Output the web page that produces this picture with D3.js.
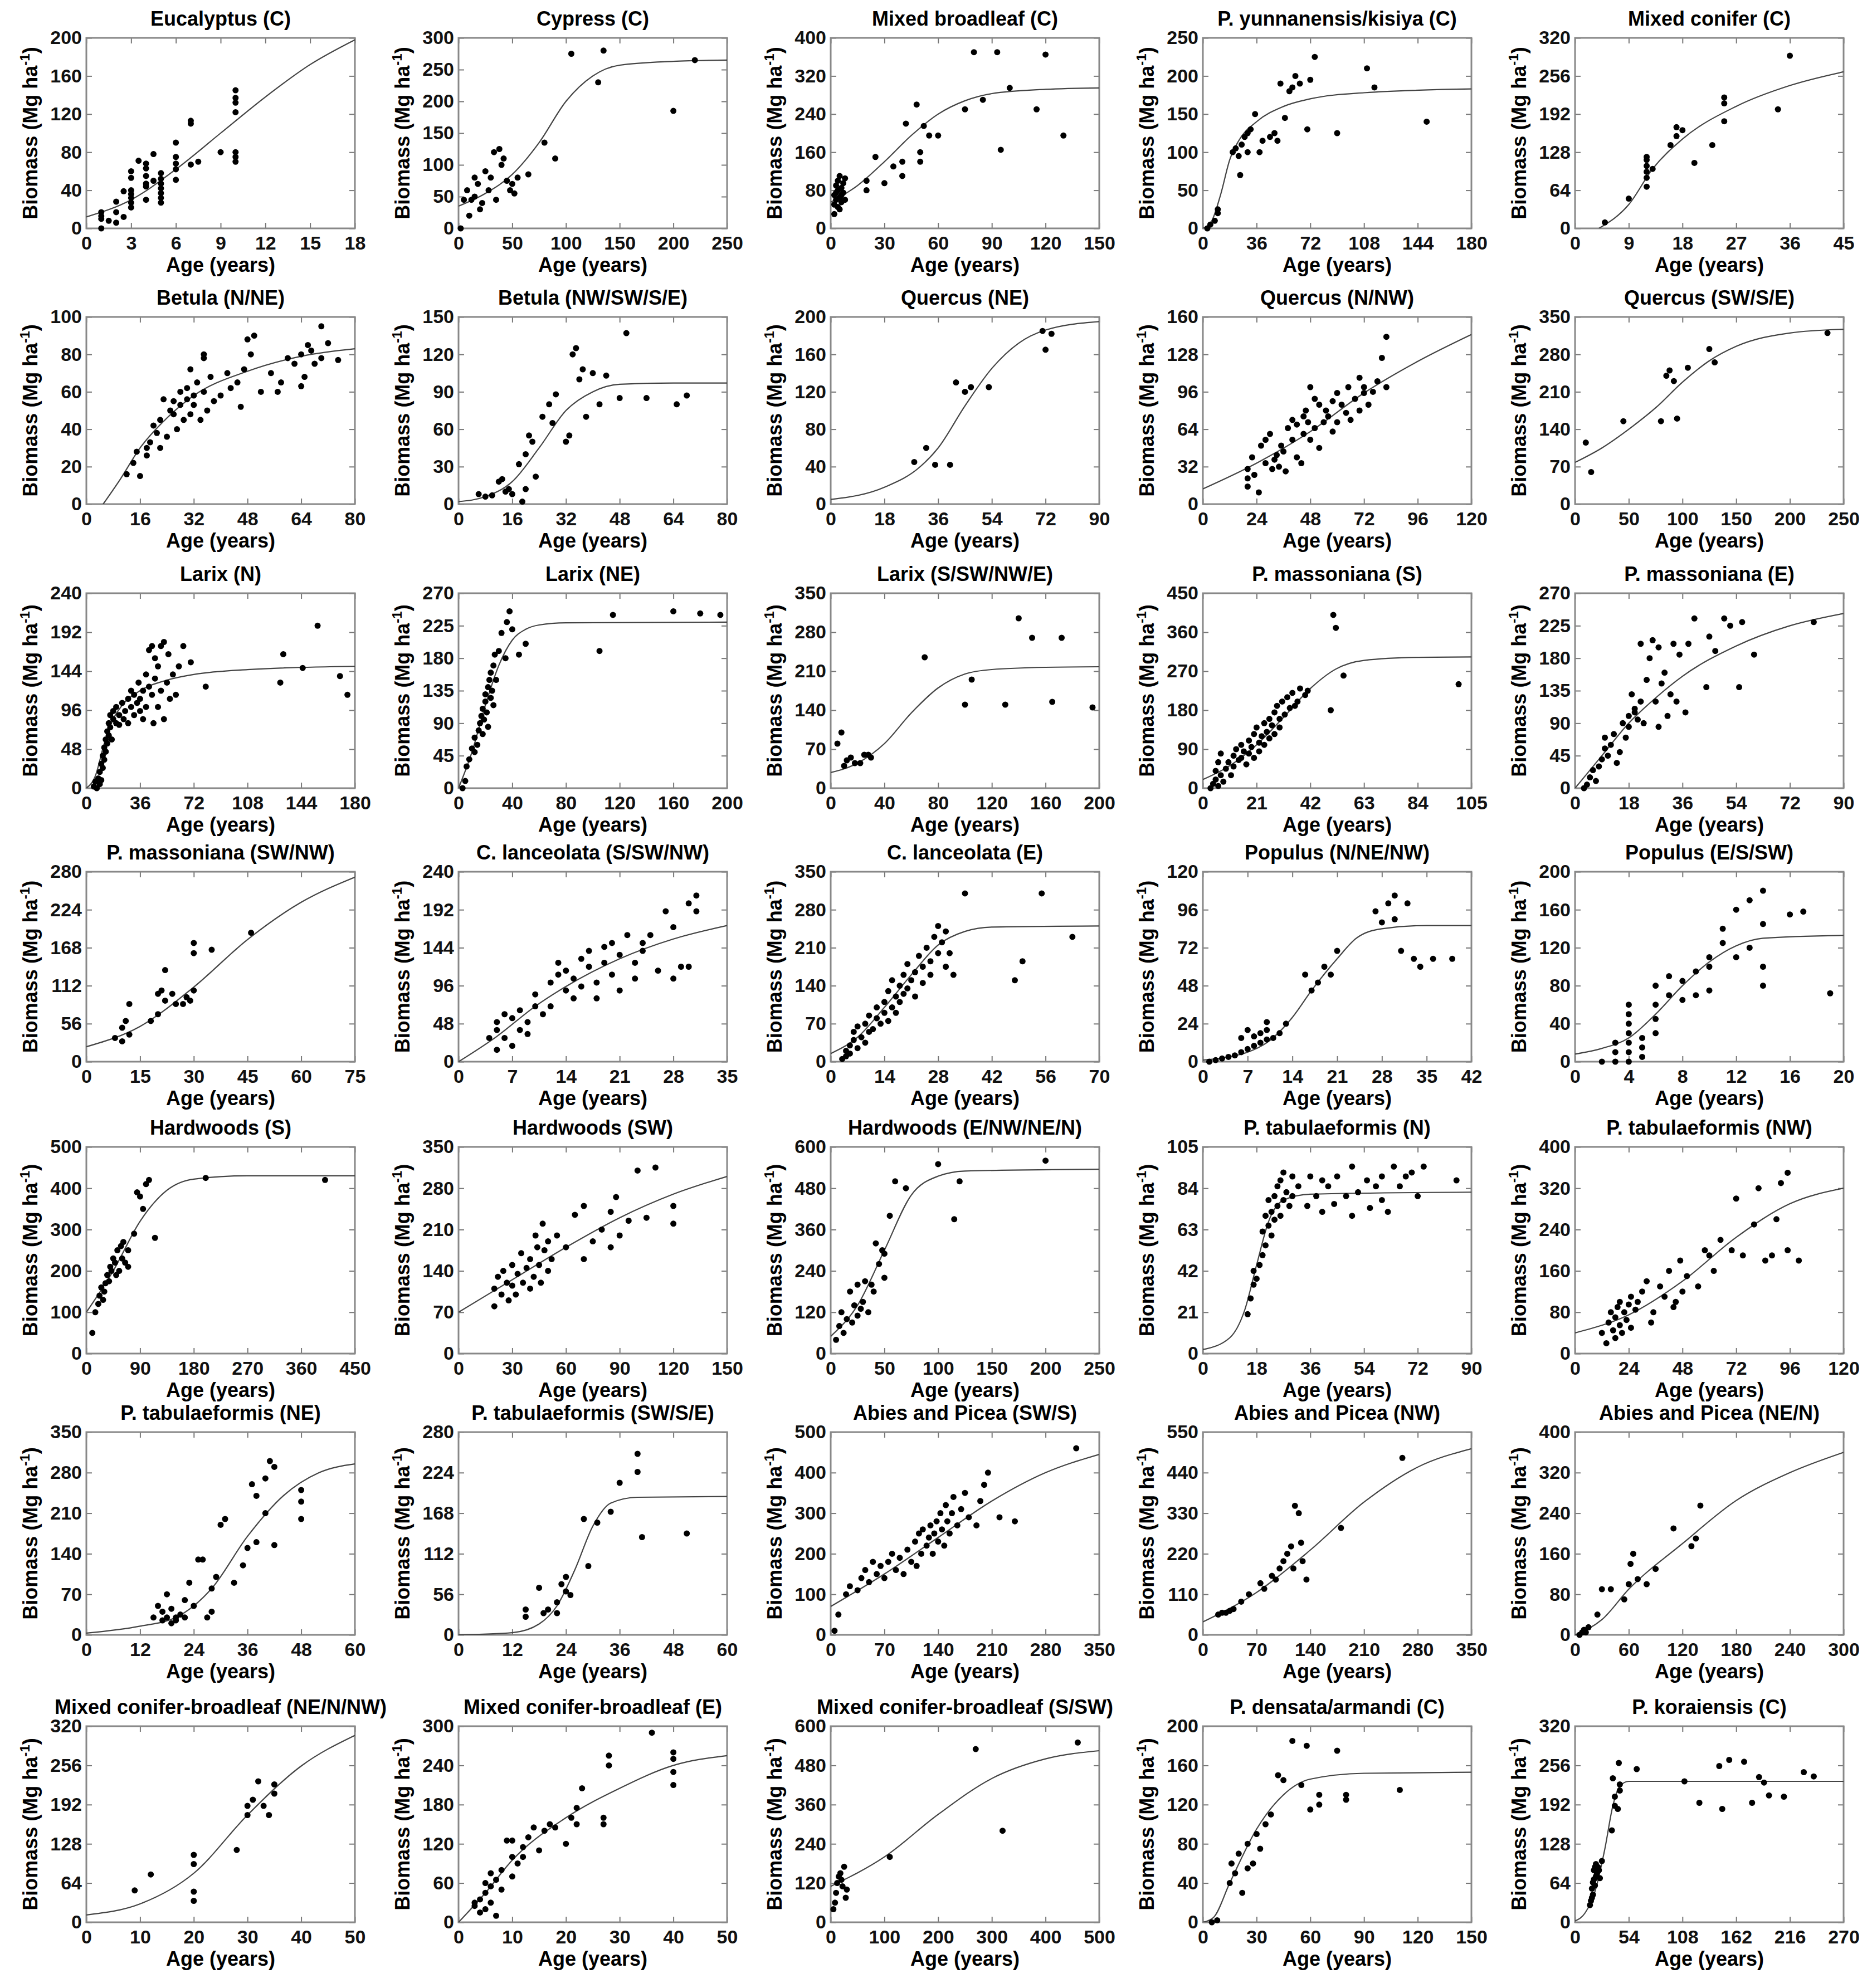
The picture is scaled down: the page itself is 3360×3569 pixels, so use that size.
<!DOCTYPE html>
<html><head><meta charset="utf-8">
<script src="https://cdn.jsdelivr.net/npm/d3@7"></script>
<style>body{margin:0;background:#fff}svg text{font-family:"Liberation Sans",Arial,sans-serif;font-weight:bold}</style>
</head><body>
<svg id="c" width="3360" height="3569"></svg>
<script>
const titles=["Eucalyptus (C)","Cypress (C)","Mixed broadleaf (C)","P. yunnanensis/kisiya (C)","Mixed conifer (C)",
"Betula (N/NE)","Betula (NW/SW/S/E)","Quercus (NE)","Quercus (N/NW)","Quercus (SW/S/E)",
"Larix (N)","Larix (NE)","Larix (S/SW/NW/E)","P. massoniana (S)","P. massoniana (E)",
"P. massoniana (SW/NW)","C. lanceolata (S/SW/NW)","C. lanceolata (E)","Populus (N/NE/NW)","Populus (E/S/SW)",
"Hardwoods (S)","Hardwoods (SW)","Hardwoods (E/NW/NE/N)","P. tabulaeformis (N)","P. tabulaeformis (NW)",
"P. tabulaeformis (NE)","P. tabulaeformis (SW/S/E)","Abies and Picea (SW/S)","Abies and Picea (NW)","Abies and Picea (NE/N)",
"Mixed conifer-broadleaf (NE/N/NW)","Mixed conifer-broadleaf (E)","Mixed conifer-broadleaf (S/SW)","P. densata/armandi (C)","P. koraiensis (C)"];
// [max, step]
const xAxes=[[18,3],[250,50],[150,30],[180,36],[45,9],[80,16],[80,16],[90,18],[120,24],[250,50],
[180,36],[200,40],[200,40],[105,21],[90,18],[75,15],[35,7],[70,14],[42,7],[20,4],
[450,90],[150,30],[250,50],[90,18],[120,24],[60,12],[60,12],[350,70],[350,70],[300,60],
[50,10],[50,10],[500,100],[150,30],[270,54]];
const yAxes=[[200,40],[300,50],[400,80],[250,50],[320,64],[100,20],[150,30],[200,40],[160,32],[350,70],
[240,48],[270,45],[350,70],[450,90],[270,45],[280,56],[240,48],[350,70],[120,24],[200,40],
[500,100],[350,70],[600,120],[105,21],[400,80],[350,70],[280,56],[500,100],[550,110],[400,80],
[320,64],[300,60],[600,120],[200,40],[320,64]];
const curves=[
[[0,12],[3,30],[6,62],[9,100],[12,138],[15,172],[18,198]],
[[0,35],[25,55],[50,85],[75,135],[100,200],[125,240],[150,257],[200,263],[250,265]],
[[0,55],[15,90],[30,140],[45,195],[60,240],[75,268],[90,283],[120,292],[150,295]],
[[0,0],[6,10],[12,45],[18,90],[24,115],[36,140],[54,160],[72,170],[108,178],[180,183]],
[[4,0],[9,40],[13,100],[18,150],[27,205],[36,240],[45,263]],
[[5,0],[10,13],[16,30],[24,46],[32,58],[48,71],[64,79],[80,83]],
[[0,2],[8,6],[16,18],[24,45],[32,75],[40,90],[48,96],[64,97],[80,97]],
[[0,5],[18,18],[30,40],[36,60],[45,105],[54,145],[63,172],[72,186],[90,195]],
[[0,13],[24,35],[48,62],[72,95],[96,122],[120,145]],
[[0,78],[25,105],[50,140],[75,180],[100,228],[125,268],[150,295],[200,320],[250,327]],
[[0,0],[6,15],[12,55],[18,85],[24,102],[36,120],[54,133],[72,140],[108,146],[180,150]],
[[0,0],[10,50],[20,115],[30,170],[40,205],[50,220],[60,226],[80,229],[200,230]],
[[0,28],[20,45],[40,80],[60,135],[80,180],[100,205],[120,213],[160,217],[200,218]],
[[0,20],[10,50],[21,100],[31,160],[42,230],[52,275],[63,295],[84,302],[105,303]],
[[0,0],[9,45],[18,90],[27,125],[36,155],[54,197],[72,225],[90,242]],
[[0,22],[15,52],[30,110],[45,180],[60,235],[75,272]],
[[0,0],[5,32],[10,70],[14,95],[21,130],[28,155],[35,172]],
[[0,15],[7,45],[14,100],[21,160],[28,215],[35,240],[42,248],[70,250]],
[[0,1],[4,3],[7,6],[10,12],[14,28],[17,45],[21,65],[24,78],[28,84],[35,86],[42,86]],
[[0,8],[2,14],[4,25],[6,50],[8,80],[10,105],[12,122],[14,130],[20,133]],
[[0,100],[45,200],[90,320],[135,395],[180,422],[270,430],[450,430]],
[[0,70],[30,125],[60,180],[90,230],[120,270],[150,300]],
[[0,50],[25,140],[50,300],[75,460],[100,515],[125,530],[250,535]],
[[0,2],[9,8],[14,22],[18,45],[22,67],[27,78],[36,81],[90,82]],
[[0,40],[24,75],[48,140],[72,225],[96,290],[120,320]],
[[0,3],[12,15],[20,30],[28,80],[36,170],[44,240],[52,280],[60,295]],
[[0,0],[12,3],[18,15],[22,40],[26,90],[30,150],[34,182],[40,190],[60,191]],
[[0,70],[70,150],[140,240],[210,330],[280,400],[350,445]],
[[0,35],[70,115],[140,230],[210,360],[280,455],[350,505]],
[[0,0],[30,30],[60,90],[120,180],[180,265],[240,320],[300,360]],
[[0,12],[10,30],[20,80],[30,175],[40,255],[50,305]],
[[0,0],[5,45],[10,95],[20,160],[30,205],[40,240],[50,255]],
[[0,110],[100,200],[200,330],[300,440],[400,500],[500,525]],
[[0,0],[6,5],[15,40],[30,95],[45,130],[60,146],[90,152],[150,153]],
[[0,2],[10,15],[20,50],[30,120],[38,190],[45,222],[54,230],[270,230]]];
const points=[
[[1,0],[1,10],[1,13],[1,17],[1.5,8],[2,6],[2,17],[2,28],[2.5,12],[2.5,39],[3,22],[3,27],[3,32],[3,36],[3,40],[3,53],[3,60],[3.5,71],[4,30],[4,44],[4,47],[4,55],[4,63],[4,68],[4.5,50],[4.5,78],[5,27],[5,32],[5,37],[5,42],[5,47],[5,52],[5,58],[6,51],[6,62],[6,68],[6,75],[6,90],[7,67],[7,110],[7,113],[7.5,70],[9,80],[10,70],[10,75],[10,80],[10,122],[10,132],[10,137],[10,145]],
[[2,0],[5,45],[8,60],[10,20],[12,45],[15,80],[15,50],[18,70],[20,30],[22,40],[25,90],[28,60],[30,80],[33,120],[35,45],[38,125],[40,100],[42,110],[45,75],[48,60],[50,70],[52,55],[55,80],[65,85],[80,135],[90,110],[105,275],[130,230],[135,280],[200,185],[220,265]],
[[2,30],[2,50],[2,70],[3,90],[3,60],[4,45],[4,80],[4,100],[5,65],[5,110],[6,55],[6,85],[7,75],[7,95],[8,60],[8,105],[3,75],[5,40],[6,70],[20,80],[20,100],[25,150],[30,95],[35,130],[40,110],[40,140],[42,220],[48,260],[50,140],[50,160],[52,215],[55,195],[60,195],[75,250],[80,370],[85,270],[93,370],[95,165],[100,295],[115,250],[120,365],[130,195]],
[[3,0],[5,5],[8,10],[10,20],[10,25],[20,100],[22,105],[24,95],[25,70],[26,110],[28,120],[30,100],[30,125],[32,130],[35,150],[38,100],[40,115],[45,120],[48,125],[50,115],[52,190],[55,145],[58,180],[60,185],[62,200],[65,190],[70,130],[72,195],[75,225],[90,125],[110,210],[115,185],[150,140]],
[[5,10],[9,50],[12,70],[12,85],[12,95],[12,105],[12,115],[12,120],[13,100],[16,140],[17,155],[17,170],[18,165],[20,110],[23,140],[25,180],[25,210],[25,220],[34,200],[36,290]],
[[12,16],[14,22],[15,28],[16,15],[18,26],[18,30],[19,33],[20,42],[21,38],[22,45],[22,30],[23,56],[24,36],[25,50],[26,48],[26,55],[27,40],[28,53],[28,60],[29,45],[30,56],[30,62],[31,48],[31,72],[32,58],[32,53],[33,65],[34,45],[35,60],[35,78],[35,80],[36,50],[37,68],[38,55],[40,58],[42,70],[43,62],[45,65],[46,52],[47,72],[48,88],[49,80],[50,90],[52,60],[55,70],[57,60],[58,65],[60,78],[62,75],[64,63],[64,80],[65,68],[66,85],[67,82],[68,75],[70,95],[70,78],[72,86],[75,77]],
[[6,8],[8,6],[10,7],[12,18],[13,20],[14,10],[15,12],[16,8],[18,32],[19,2],[20,40],[20,12],[21,55],[22,50],[23,22],[25,70],[27,80],[28,65],[29,88],[32,50],[33,55],[34,120],[35,125],[36,100],[37,108],[38,70],[40,105],[42,80],[44,103],[48,85],[50,137],[56,85],[65,80],[68,87]],
[[28,45],[32,60],[35,42],[40,42],[42,130],[45,120],[47,125],[53,125],[71,185],[72,165],[74,182]],
[[20,15],[20,22],[20,30],[22,40],[23,25],[25,10],[26,50],[28,35],[28,55],[30,60],[31,30],[32,38],[33,42],[34,32],[35,50],[36,45],[37,28],[38,65],[40,55],[40,72],[42,40],[42,68],[44,35],[45,60],[45,75],[46,80],[47,70],[48,55],[48,100],[50,65],[50,90],[52,85],[52,48],[54,70],[55,80],[56,75],[58,62],[58,88],[60,70],[60,95],[62,85],[64,78],[65,100],[66,72],[68,90],[70,80],[70,108],[72,100],[72,95],[74,85],[76,96],[78,105],[80,125],[82,143],[82,100]],
[[10,115],[15,60],[45,155],[80,155],[85,240],[88,250],[92,230],[95,160],[105,255],[125,290],[130,265],[235,320]],
[[5,2],[6,8],[7,0],[8,12],[9,5],[9,20],[10,30],[10,10],[11,40],[11,25],[12,50],[12,35],[13,60],[13,45],[14,70],[14,55],[15,80],[15,65],[16,90],[16,75],[17,60],[18,95],[18,85],[20,80],[20,100],[22,90],[22,78],[24,105],[25,85],[26,95],[28,110],[28,80],[30,100],[30,120],[32,90],[32,115],[34,105],[35,130],[36,95],[36,110],[38,120],[38,85],[40,140],[40,100],[42,125],[42,170],[44,115],[44,175],[45,80],[46,160],[46,135],[48,100],[48,150],[50,175],[50,120],[52,180],[52,85],[54,130],[55,165],[56,110],[58,140],[60,115],[62,150],[65,175],[70,155],[80,125],[130,130],[132,165],[155,200],[170,138],[175,115],[145,148]],
[[3,0],[5,10],[6,30],[8,40],[10,55],[12,50],[12,70],[14,60],[15,80],[16,90],[17,100],[18,75],[18,110],[19,95],[20,120],[20,130],[21,105],[22,140],[22,85],[23,150],[24,125],[24,160],[25,135],[26,170],[26,115],[27,185],[28,150],[30,190],[32,215],[35,180],[36,230],[38,245],[40,220],[45,185],[50,200],[105,190],[115,240],[160,245],[180,242],[195,240]],
[[5,80],[8,100],[10,40],[12,50],[15,55],[18,45],[22,45],[25,60],[28,60],[30,55],[70,235],[100,150],[105,195],[130,150],[140,305],[150,270],[165,155],[172,270],[195,145]],
[[3,0],[4,10],[5,20],[5,40],[6,5],[6,60],[7,30],[7,80],[8,15],[9,45],[10,60],[11,30],[12,75],[12,50],[13,90],[14,65],[15,100],[15,70],[16,85],[17,55],[18,110],[18,80],[19,95],[20,125],[20,70],[21,140],[22,105],[22,85],[23,120],[24,150],[24,100],[25,130],[26,160],[26,115],[27,145],[28,175],[28,125],[29,190],[30,160],[30,140],[31,200],[32,170],[33,210],[34,185],[35,220],[36,190],[37,200],[38,230],[40,215],[41,225],[50,180],[51,400],[52,370],[55,260],[100,240]],
[[3,0],[4,5],[5,15],[6,25],[7,10],[8,30],[9,40],[10,55],[10,70],[11,45],[12,60],[13,75],[14,35],[15,50],[16,90],[17,70],[18,100],[18,85],[19,130],[20,105],[20,110],[21,95],[22,120],[22,200],[23,90],[24,150],[25,180],[26,205],[27,120],[28,85],[28,195],[29,145],[30,160],[31,100],[32,130],[33,200],[34,120],[35,185],[37,105],[38,200],[40,235],[44,140],[45,210],[47,190],[50,235],[52,225],[55,140],[56,230],[60,185],[80,230]],
[[8,35],[10,30],[10,50],[11,60],[12,85],[12,40],[18,60],[20,70],[20,100],[21,105],[22,135],[22,90],[24,100],[25,85],[27,85],[28,95],[29,90],[30,105],[30,160],[30,175],[35,165],[46,190]],
[[4,30],[5,15],[5,40],[5,50],[6,30],[6,60],[7,20],[7,55],[8,40],[8,65],[9,35],[9,50],[10,70],[10,85],[11,60],[12,70],[12,100],[13,110],[13,125],[14,90],[14,115],[15,80],[15,105],[16,130],[16,95],[17,120],[17,140],[18,100],[18,80],[19,125],[19,145],[20,110],[20,150],[21,90],[21,135],[22,160],[23,105],[23,125],[24,140],[24,150],[25,160],[26,115],[27,190],[28,105],[28,170],[29,120],[30,200],[31,190],[30,120],[31,210]],
[[3,5],[4,20],[4,10],[5,30],[5,15],[6,40],[6,55],[7,25],[7,65],[8,45],[9,35],[9,70],[10,55],[10,85],[11,60],[12,80],[12,100],[13,70],[14,90],[14,110],[15,75],[15,130],[16,100],[16,150],[17,120],[17,90],[18,140],[18,110],[19,160],[19,125],[20,135],[20,180],[21,150],[22,165],[22,120],[23,195],[24,175],[24,145],[25,210],[26,185],[26,160],[27,230],[28,250],[28,200],[29,220],[30,240],[30,175],[31,200],[32,160],[35,310],[48,150],[50,185],[55,310],[63,230]],
[[1,0],[2,1],[3,2],[4,3],[5,4],[6,6],[6,15],[7,20],[7,8],[8,10],[8,16],[9,12],[9,18],[10,25],[10,20],[10,14],[11,15],[12,18],[13,24],[16,55],[17,45],[18,50],[19,60],[20,55],[21,70],[27,95],[28,88],[29,100],[30,105],[30,90],[31,70],[32,100],[33,65],[34,60],[36,65],[39,65]],
[[2,0],[3,0],[3,10],[3,20],[4,0],[4,10],[4,20],[4,30],[4,40],[4,50],[4,60],[5,5],[5,15],[5,25],[6,30],[6,45],[6,60],[6,80],[7,70],[7,90],[8,65],[8,85],[9,70],[9,95],[10,75],[10,100],[10,110],[11,125],[11,140],[12,160],[12,110],[13,120],[13,170],[14,80],[14,100],[14,145],[14,180],[16,155],[17,158],[19,72]],
[[10,50],[15,100],[20,120],[22,140],[25,160],[28,130],[30,150],[32,170],[35,190],[38,175],[40,210],[42,200],[45,230],[48,220],[50,190],[52,250],[55,200],[58,260],[60,230],[62,270],[65,220],[70,210],[70,250],[80,290],[85,390],[90,380],[95,350],[100,410],[105,420],[115,280],[200,425],[400,420]],
[[20,80],[20,110],[22,130],[24,100],[25,140],[27,120],[28,90],[30,115],[30,150],[32,100],[33,135],[35,170],[36,120],[38,145],[40,110],[40,160],[42,130],[43,200],[44,180],[45,150],[46,120],[47,220],[48,175],[50,140],[50,190],[52,160],[55,200],[60,180],[65,235],[70,250],[70,160],[75,190],[80,210],[85,180],[85,240],[88,265],[90,200],[95,225],[100,310],[105,230],[110,315],[120,220],[120,250]],
[[5,40],[8,80],[10,120],[12,60],[15,100],[18,180],[20,90],[22,140],[25,110],[25,200],[28,130],[30,150],[32,210],[35,120],[38,200],[40,180],[42,320],[45,260],[48,300],[50,290],[50,220],[55,400],[60,500],[70,480],[100,550],[115,390],[120,500],[200,560]],
[[15,20],[16,28],[17,35],[17,42],[18,38],[19,45],[20,50],[20,62],[21,55],[21,70],[22,65],[22,78],[23,60],[23,72],[24,80],[24,68],[25,75],[25,85],[26,70],[26,88],[27,78],[27,92],[28,82],[29,75],[30,90],[30,80],[32,85],[35,75],[36,90],[38,80],[40,72],[40,88],[42,85],[44,76],[45,90],[48,80],[50,95],[50,70],[52,82],[55,88],[56,74],[58,85],[60,90],[60,78],[62,72],[64,95],[66,85],[68,90],[70,92],[72,80],[74,95],[85,88]],
[[12,40],[14,20],[15,60],[16,80],[17,45],[18,30],[18,70],[19,90],[20,55],[20,100],[21,40],[22,80],[23,65],[24,95],[25,50],[25,110],[27,85],[28,100],[30,120],[32,140],[34,60],[35,80],[38,130],[40,110],[42,160],[44,90],[45,100],[47,180],[48,120],[50,150],[55,130],[58,200],[60,190],[62,160],[65,220],[70,200],[72,300],[75,190],[80,250],[82,320],[85,180],[88,190],[90,260],[92,330],[95,350],[95,200],[100,180]],
[[15,30],[16,50],[17,25],[17,40],[18,30],[18,70],[19,20],[19,45],[20,30],[20,25],[21,35],[22,30],[22,60],[23,90],[24,50],[25,130],[26,130],[27,30],[28,80],[28,40],[29,100],[30,190],[31,200],[33,90],[35,120],[36,150],[37,260],[38,240],[38,160],[40,210],[40,270],[41,300],[42,290],[42,155],[48,200],[48,230],[48,250]],
[[15,35],[15,25],[18,65],[19,30],[20,35],[22,45],[22,30],[23,70],[24,80],[24,60],[25,55],[28,160],[29,95],[31,155],[34,170],[36,210],[40,250],[40,225],[41,135],[51,140]],
[[5,10],[10,50],[20,100],[25,120],[35,110],[40,140],[45,160],[50,130],[55,180],[60,150],[65,170],[70,140],[75,180],[80,200],[85,160],[90,190],[95,150],[100,210],[105,180],[110,230],[112,170],[115,250],[118,200],[120,260],[125,220],[128,240],[130,270],[133,200],[135,250],[138,280],[140,230],[143,300],[145,260],[148,220],[150,320],[152,280],[155,250],[158,300],[160,340],[165,270],[170,310],[175,350],[180,290],[190,270],[195,330],[200,370],[205,400],[220,290],[240,280],[320,460]],
[[20,55],[25,60],[30,60],[35,65],[40,70],[50,90],[60,110],[75,140],[80,125],[90,160],[95,150],[100,180],[105,200],[110,220],[115,240],[118,180],[120,350],[125,330],[128,250],[130,200],[135,150],[180,290],[260,480]],
[[5,0],[8,5],[10,10],[12,5],[15,15],[25,40],[30,90],[40,90],[55,70],[60,100],[62,140],[65,160],[70,110],[80,100],[90,130],[110,210],[130,175],[135,190],[140,255]],
[[9,52],[12,78],[20,35],[20,50],[20,95],[20,110],[28,118],[30,190],[30,175],[31,200],[32,230],[33,190],[34,175],[35,210],[35,225]],
[[3,25],[3,30],[4,15],[4,35],[5,20],[5,45],[5,60],[6,30],[6,55],[6,75],[7,10],[7,65],[8,50],[8,80],[9,125],[10,70],[10,100],[10,125],[11,90],[12,115],[12,100],[13,130],[14,145],[15,110],[16,140],[17,150],[18,145],[20,120],[21,160],[22,150],[22,175],[23,205],[27,150],[27,160],[28,240],[28,255],[36,290],[40,210],[40,230],[40,250],[40,260]],
[[5,40],[8,60],[10,90],[12,120],[15,140],[18,150],[20,130],[22,110],[25,170],[28,75],[30,100],[110,200],[270,530],[320,280],[460,550]],
[[5,0],[8,2],[15,40],[16,60],[18,50],[20,70],[22,30],[25,55],[25,80],[28,60],[30,90],[32,75],[35,100],[38,110],[42,150],[45,145],[50,185],[55,140],[58,180],[65,130],[65,120],[60,115],[75,175],[80,130],[80,125],[110,135]],
[[15,28],[16,35],[17,40],[17,55],[18,65],[18,45],[19,70],[19,85],[20,60],[20,90],[21,75],[21,95],[22,80],[23,90],[24,85],[25,72],[27,100],[37,150],[38,235],[40,205],[40,190],[43,185],[44,260],[45,225],[45,215],[62,250],[110,230],[125,195],[145,255],[148,185],[155,265],[170,262],[178,195],[185,237],[190,228],[195,207],[210,205],[230,245],[240,238]]];

const svg=d3.select("#c");
const rowTop=[68,569,1065,1565,2059,2571,3099], rowBot=[410,905,1415,1906,2430,2935,3451];
const W=482;
titles.forEach((t,i)=>{
  const col=i%5,row=Math.floor(i/5);
  const L=155+668*col,T=rowTop[row],B=rowBot[row],H=B-T;
  const g=svg.append("g").attr("transform",`translate(${L},${T})`);
  const [xm,xs]=xAxes[i],[ym,ys]=yAxes[i];
  const x=d3.scaleLinear().domain([0,xm]).range([0,W]);
  const y=d3.scaleLinear().domain([0,ym]).range([H,0]);
  const xt=d3.range(0,xm+xs/2,xs), yt=d3.range(0,ym+ys/2,ys);
  const ax=(a,tr)=>{const s=g.append("g").attr("transform",tr).call(a);s.select(".domain").remove();s.selectAll("line").attr("stroke","#777").attr("stroke-width",2);s.selectAll("text").attr("font-size",34).attr("fill","#111");return s;};
  ax(d3.axisBottom(x).tickValues(xt).tickSize(-10).tickPadding(14).tickFormat(d3.format("d")),`translate(0,${H})`);
  ax(d3.axisLeft(y).tickValues(yt).tickSize(-10).tickPadding(8).tickFormat(d3.format("d")),"");
  ax(d3.axisTop(x).tickValues(xt).tickSize(-10).tickFormat(""),"");
  ax(d3.axisRight(y).tickValues(yt).tickSize(-10).tickFormat(""),`translate(${W},0)`);
  g.append("rect").attr("width",W).attr("height",H).attr("fill","none").attr("stroke","#888").attr("stroke-width",3);
  const clip="cl"+i;
  g.append("clipPath").attr("id",clip).append("rect").attr("width",W).attr("height",H);
  g.append("path").datum(curves[i]).attr("clip-path",`url(#${clip})`).attr("fill","none").attr("stroke","#444").attr("stroke-width",2.2)
   .attr("d",d3.line().x(d=>x(d[0])).y(d=>y(d[1])).curve(d3.curveMonotoneX));
  g.selectAll("circle.p").data(points[i]).join("circle").attr("cx",d=>x(d[0])).attr("cy",d=>y(d[1])).attr("r",5.5).attr("fill","#000");
  g.append("text").attr("x",W/2).attr("y",-22).attr("text-anchor","middle").attr("font-size",36).text(t);
  g.append("text").attr("x",W/2).attr("y",H+78).attr("text-anchor","middle").attr("font-size",36).text("Age (years)");
  const yl=g.append("text").attr("transform",`translate(-88,${H/2}) rotate(-90)`).attr("text-anchor","middle").attr("font-size",36);
  yl.append("tspan").text("Biomass (Mg ha");
  yl.append("tspan").attr("dy",-14).attr("font-size",24).text("-1");
  yl.append("tspan").attr("dy",14).text(")");
});
</script></body></html>
